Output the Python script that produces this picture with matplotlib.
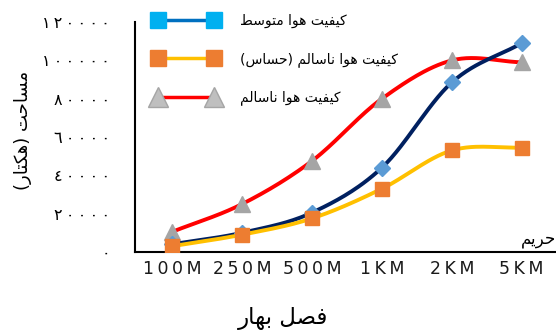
import numpy as np
import matplotlib
matplotlib.use('Agg')
import matplotlib.pyplot as plt
from matplotlib.lines import Line2D

# مساحت هر طبقه کیفیت هوا در فاصله‌های مختلف (فصل بهار)
categories = ['100M', '250M', '500M', '1KM', '2KM', '5KM']
moderate = [4000, 10000, 20500, 44000, 88500, 109000]
unhealthy_sensitive = [3000, 9000, 17500, 33000, 53000, 54500]
unhealthy = [10500, 25000, 47500, 80000, 100000, 99000]
yticks = [0, 20000, 40000, 60000, 80000, 100000, 120000]

series_labels = ['کیفیت هوا متوسط', 'کیفیت هوا ناسالم (حساس)', 'کیفیت هوا ناسالم']

# --- شکل دادن حروف فارسی برای رسم چپ به راست ---
FORMS = {  # isolated, final, initial, medial
    'ا': ('\uFE8D', '\uFE8E', None, None),
    'ب': ('\uFE8F', '\uFE90', '\uFE91', '\uFE92'),
    'ت': ('\uFE95', '\uFE96', '\uFE97', '\uFE98'),
    'ح': ('\uFEA1', '\uFEA2', '\uFEA3', '\uFEA4'),
    'ر': ('\uFEAD', '\uFEAE', None, None),
    'س': ('\uFEB1', '\uFEB2', '\uFEB3', '\uFEB4'),
    'ص': ('\uFEB9', '\uFEBA', '\uFEBB', '\uFEBC'),
    'ط': ('\uFEC1', '\uFEC2', '\uFEC3', '\uFEC4'),
    'ف': ('\uFED1', '\uFED2', '\uFED3', '\uFED4'),
    'ل': ('\uFEDD', '\uFEDE', '\uFEDF', '\uFEE0'),
    'م': ('\uFEE1', '\uFEE2', '\uFEE3', '\uFEE4'),
    'ن': ('\uFEE5', '\uFEE6', '\uFEE7', '\uFEE8'),
    'ه': ('\uFEE9', '\uFEEA', '\uFEEB', '\uFEEC'),
    'و': ('\uFEED', '\uFEEE', None, None),
    'ک': ('\uFB8E', '\uFB8F', '\uFB90', '\uFB91'),
    'ی': ('\uFBFC', '\uFBFD', '\uFBFE', '\uFBFF'),
}
MIRROR = {'(': ')', ')': '('}
THIN = '\u2009'


def fa(text):
    out = []
    n = len(text)
    for i, ch in enumerate(text):
        if ch not in FORMS:
            out.append(ch)
            continue
        iso, fin, ini, med = FORMS[ch]
        prev = text[i - 1] if i > 0 else ''
        nxt = text[i + 1] if i < n - 1 else ''
        join_prev = prev in FORMS and FORMS[prev][2] is not None
        join_next = nxt in FORMS and ini is not None
        if join_prev and join_next:
            out.append(med)
        elif join_prev:
            out.append(fin)
        elif join_next:
            out.append(ini)
        else:
            out.append(iso)
    return ''.join(MIRROR.get(c, c) for c in reversed(out))


def ar_digits(v):
    return THIN.join(chr(0x0660 + int(d)) for d in str(int(v)))


def spaced(s):
    return THIN.join(s)


def smooth(x, y, steps=30):
    # خط نرم شبیه اکسل (کاتمول-رام)
    x = np.asarray(x, float)
    y = np.asarray(y, float)
    n = len(x)
    m = np.zeros(n)
    m[1:-1] = (y[2:] - y[:-2]) / 2
    m[0] = y[1] - y[0]
    m[-1] = y[-1] - y[-2]
    xs, ys = [], []
    for i in range(n - 1):
        t = np.linspace(0, 1, steps, endpoint=(i == n - 2))
        h00 = 2 * t**3 - 3 * t**2 + 1
        h10 = t**3 - 2 * t**2 + t
        h01 = -2 * t**3 + 3 * t**2
        h11 = t**3 - t**2
        ys.append(h00 * y[i] + h10 * m[i] + h01 * y[i + 1] + h11 * m[i + 1])
        xs.append(x[i] + t * (x[i + 1] - x[i]))
    return np.concatenate(xs), np.concatenate(ys)


fig = plt.figure(figsize=(5.56, 3.35), dpi=100)
ax = fig.add_axes([0.243, 0.248, 0.757, 0.686])

x = np.arange(len(categories))

sx, sy = smooth(x, unhealthy)
ax.plot(sx, sy, color='#FF0000', lw=2.8, zorder=2)
ax.plot(x, unhealthy, ls='', marker='^', ms=11, mfc='#A5A5A5', mec='#A5A5A5', zorder=3)

sx, sy = smooth(x, moderate)
ax.plot(sx, sy, color='#002060', lw=2.8, zorder=4)
ax.plot(x, moderate, ls='', marker='D', ms=8, mfc='#5B9BD5', mec='#5B9BD5', zorder=5)

sx, sy = smooth(x, unhealthy_sensitive)
ax.plot(sx, sy, color='#FFC000', lw=2.8, zorder=6)
ax.plot(x, unhealthy_sensitive, ls='', marker='s', ms=10, mfc='#ED7D31', mec='#ED7D31', zorder=7)

ax.set_xlim(-0.53, 5.49)
ax.set_ylim(0, 120000)
ax.set_xticks(x)
ax.set_xticklabels([spaced(c) for c in categories], fontsize=12.5, color='#1a1a1a')
ax.set_yticks(yticks)
ax.set_yticklabels([ar_digits(v) for v in yticks], fontsize=11.5)
ax.tick_params(axis='both', length=0)
ax.tick_params(axis='y', pad=18)
ax.tick_params(axis='x', pad=6)
for s in ['top', 'right']:
    ax.spines[s].set_visible(False)
for s in ['left', 'bottom']:
    ax.spines[s].set_linewidth(1.5)

ax.set_ylabel(fa('مساحت (هکتار)'), fontsize=13)
ax.yaxis.set_label_coords(-0.245, 0.53)
fig.text(283 / 556, 1 - 318 / 335, fa('فصل بهار'), fontsize=16.5, ha='center', va='center')
ax.text(5.49, 6500, fa('حریم'), fontsize=12, ha='right', va='center')

handles = [
    Line2D([], [], color='#0070C0', lw=2.5, marker='s', ms=12, mfc='#00B0F0', mec='#00B0F0'),
    Line2D([], [], color='#FFC000', lw=2.5, marker='s', ms=12, mfc='#ED7D31', mec='#ED7D31'),
    Line2D([], [], color='#FF0000', lw=2.5, marker='^', ms=14, mfc='#BFBFBF', mec='#A5A5A5'),
]
fig.legend(handles, [fa(s) for s in series_labels], numpoints=2, frameon=False,
           fontsize=10, loc='upper left', bbox_to_anchor=(0.255, 0.995),
           handlelength=4.6, handletextpad=1.6, labelspacing=1.7)

fig.savefig('out.png', dpi=100)
